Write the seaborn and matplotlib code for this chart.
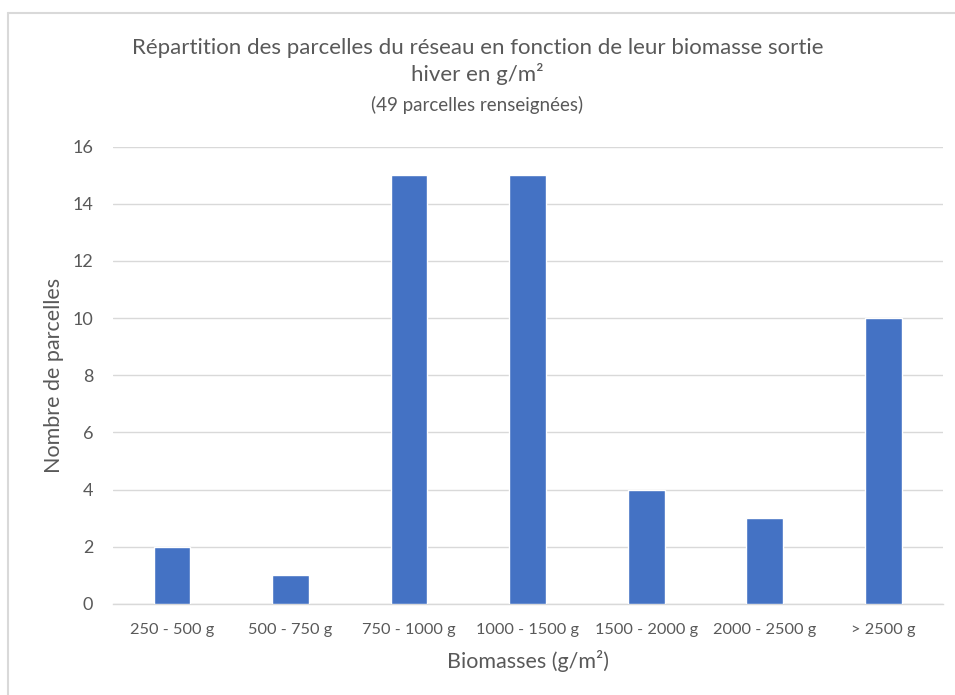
import pandas as pd
import matplotlib.pyplot as plt
import seaborn as sns
from matplotlib.lines import Line2D

# --- data ---
categories = ['250 - 500 g', '500 - 750 g', '750 - 1000 g', '1000 - 1500 g',
              '1500 - 2000 g', '2000 - 2500 g', '> 2500 g']
nb_parcelles = [2, 1, 15, 15, 4, 3, 10]

df = pd.DataFrame({'Biomasse': categories, 'Nombre': nb_parcelles})

sns.set_theme(style="white")
plt.rcParams['font.family'] = ['Lato', 'DejaVu Sans']

grey = '#595959'
fig = plt.figure(figsize=(9.55, 6.95), dpi=100)
ax = fig.add_axes([0.118, 0.131, 0.869, 0.658])

sns.barplot(data=df, x='Biomasse', y='Nombre', color='#4472C4',
            width=0.31, saturation=1, ax=ax, zorder=3)

ax.set_ylim(0, 16)
ax.set_yticks(range(0, 17, 2))
ax.yaxis.grid(True, color='#D9D9D9', linewidth=1, zorder=0)
for s in ['top', 'right', 'left']:
    ax.spines[s].set_visible(False)
ax.spines['bottom'].set_color('#D9D9D9')
ax.spines['bottom'].set_linewidth(1)
ax.tick_params(axis='x', colors=grey, labelsize=11.8, length=0, pad=14)
ax.tick_params(axis='y', colors=grey, labelsize=13, length=0, pad=14)

ax.set_xlabel('Biomasses (g/m²)', color=grey, fontsize=15.5, labelpad=9)
ax.set_ylabel('Nombre de parcelles', color=grey, fontsize=15.5, labelpad=6)

# title block
fig.text(0.5, 0.931, 'Répartition des parcelles du réseau en fonction de leur biomasse sortie',
         ha='center', va='center', fontsize=16, color=grey)
fig.text(0.5, 0.894, 'hiver en g/m²', ha='center', va='center', fontsize=16, color=grey)
fig.text(0.5, 0.849, '(49 parcelles renseignées)', ha='center', va='center',
         fontsize=13.5, color=grey)

# chart area frame (top and left edges visible)
fig.add_artist(Line2D([8 / 955, 1], [1 - 13 / 695, 1 - 13 / 695],
                      transform=fig.transFigure, color='#D9D9D9', linewidth=1.5))
fig.add_artist(Line2D([8 / 955, 8 / 955], [0, 1 - 13 / 695],
                      transform=fig.transFigure, color='#D9D9D9', linewidth=1.5))

plt.savefig('out.png', dpi=100)
